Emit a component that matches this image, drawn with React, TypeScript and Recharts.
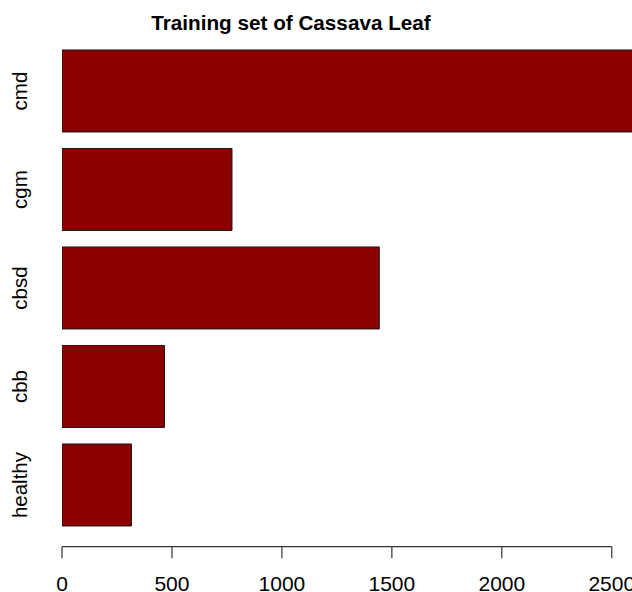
import React from "react";
import { BarChart, Bar, XAxis, YAxis } from "recharts";

const categories = ["cmd", "cgm", "cbsd", "cbb", "healthy"];
const counts = [2658, 773, 1443, 466, 316];
const xTicks = [0, 500, 1000, 1500, 2000, 2500];
const title = "Training set of Cassava Leaf";

const data = categories.map((name, i) => ({ name, value: counts[i] }));

const FONT = "'Liberation Sans', Arial, Helvetica, sans-serif";
const AXIS_COLOR = "#333333";

let prevTickX: number | null = null;

const XTick = (props: any) => {
  const { x, y, payload, index } = props;
  const axisY = y + 12.4;
  let seg: React.ReactNode = null;
  if (index === 0) {
    prevTickX = x;
  } else if (prevTickX != null) {
    seg = (
      <line x1={prevTickX} x2={x} y1={axisY} y2={axisY} stroke={AXIS_COLOR} strokeWidth={1.2} />
    );
    prevTickX = x;
  }
  return (
    <g>
      {seg}
      <line x1={x} x2={x} y1={axisY} y2={axisY + 11.6} stroke={AXIS_COLOR} strokeWidth={1.2} />
      <text x={x} y={y + 56.5} textAnchor="middle" fontFamily={FONT} fontSize={21} fill="#000">
        {payload.value}
      </text>
    </g>
  );
};

const YTick = (props: any) => {
  const { x, y, payload } = props;
  return (
    <text
      x={x}
      y={y}
      transform={`rotate(-90 ${x} ${y})`}
      textAnchor="middle"
      fontFamily={FONT}
      fontSize={20.5}
      fill="#000"
    >
      {payload.value}
    </text>
  );
};

export default function App() {
  return (
    <div style={{ position: "absolute", left: 0, top: 0, width: 632, height: 592, background: "#fff" }}>
      <svg width={632} height={40} style={{ position: "absolute", left: 0, top: 0 }}>
        <text x={291} y={30} textAnchor="middle" fontFamily={FONT} fontWeight="bold" fontSize={20.7} fill="#000">
          {title}
        </text>
      </svg>
      <div style={{ position: "absolute", left: 0, top: 0 }}>
        <BarChart
          width={632}
          height={592}
          data={data}
          layout="vertical"
          margin={{ top: 41.8, right: 0, left: 0, bottom: 0 }}
          barCategoryGap="8.3%"
        >
          <XAxis
            type="number"
            domain={[0, 2592]}
            allowDataOverflow
            ticks={xTicks}
            interval={0}
            height={57.7}
            axisLine={false}
            tickLine={false}
            tickSize={0}
            tickMargin={0}
            tick={XTick}
          />
          <YAxis
            type="category"
            dataKey="name"
            width={62}
            axisLine={false}
            tickLine={false}
            tickSize={0}
            tickMargin={35}
            interval={0}
            tick={YTick}
          />
          <Bar dataKey="value" fill="#8B0000" stroke="#1a1a1a" strokeWidth={1} isAnimationActive={false} />
        </BarChart>
      </div>
    </div>
  );
}
